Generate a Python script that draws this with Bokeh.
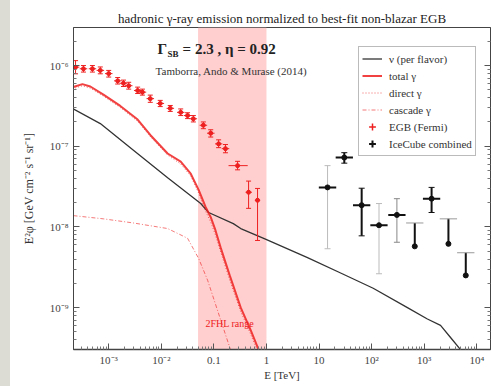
from bokeh.plotting import figure
from bokeh.models import (BoxAnnotation, Label, Legend, LegendItem, FixedTicker,
                          CustomJSTickFormatter, LogAxis, Range1d, Spacer)
from bokeh.layouts import row
from bokeh.embed import file_html
from bokeh.resources import INLINE

# ---------------- data (E in TeV, E^2 phi in GeV cm^-2 s^-1 sr^-1) ----------------
nu_E = [2.04e-4, 6.92e-4, 2.95e-3, 1.32e-2, 5.62e-2, 7.94e-2, 0.234, 0.324, 0.955, 6.03,
        25.7, 107, 479, 1148, 2042, 3162, 4898, 6026]
nu_flux = [2.95e-7, 1.91e-7, 8.91e-8, 4.07e-8, 1.95e-8, 1.51e-8, 1.10e-8, 9.55e-9, 7.08e-9,
           4.17e-9, 2.69e-9, 1.74e-9, 1.0e-9, 7.24e-10, 6.03e-10, 4.27e-10, 3.02e-10, 1.58e-10]

gam_E = [2.04e-4, 3.16e-4, 4.47e-4, 7.94e-4, 1.66e-3, 3.55e-3, 6.17e-3, 1.32e-2, 2.34e-2,
         3.63e-2, 5.13e-2, 6.92e-2, 8.71e-2, 0.107, 0.135, 0.200, 0.324, 0.501, 0.708, 0.891]
total_flux = [5.37e-7, 5.89e-7, 5.50e-7, 4.37e-7, 3.16e-7, 2.14e-7, 1.38e-7, 8.13e-8,
              6.46e-8, 4.57e-8, 2.88e-8, 1.78e-8, 1.32e-8, 9.12e-9, 5.50e-9, 2.51e-9,
              1.0e-9, 5.25e-10, 3.02e-10, 2.0e-10]
direct_flux = [5.13e-7, 5.62e-7, 5.25e-7, 4.17e-7, 3.02e-7, 2.04e-7, 1.32e-7, 7.76e-8,
               6.03e-8, 4.27e-8, 2.63e-8, 1.58e-8, 1.15e-8, 7.94e-9, 4.90e-9, 2.19e-9,
               8.91e-10, 4.68e-10, 2.69e-10, 1.78e-10]

cascade_E = [2.14e-4, 7.94e-4, 2.95e-3, 1.32e-2, 3.16e-2, 5.13e-2, 7.59e-2, 0.209, 0.251]
cascade_flux = [1.38e-8, 1.26e-8, 1.12e-8, 9.55e-9, 7.24e-9, 4.07e-9, 2.19e-9, 2.95e-10, 2.0e-10]

egb_E = [2.34e-4, 3.31e-4, 4.90e-4, 6.92e-4, 1.0e-3, 1.48e-3, 1.91e-3, 2.40e-3, 3.55e-3,
         4.37e-3, 6.17e-3, 9.55e-3, 1.48e-2, 2.34e-2, 3.16e-2, 4.07e-2, 6.31e-2, 8.71e-2,
         0.123, 0.166, 0.282, 0.457, 0.676]
egb_E_lo = [1.99e-4, 2.81e-4, 4.17e-4, 5.88e-4, 8.5e-4, 1.26e-3, 1.62e-3, 2.04e-3, 3.02e-3,
            3.71e-3, 5.24e-3, 8.12e-3, 1.26e-2, 1.99e-2, 2.69e-2, 3.46e-2, 5.36e-2, 7.40e-2,
            0.105, 0.141, 0.19, 0.40, 0.60]
egb_E_hi = [2.76e-4, 3.91e-4, 5.78e-4, 8.17e-4, 1.18e-3, 1.75e-3, 2.25e-3, 2.83e-3, 4.19e-3,
            5.16e-3, 7.28e-3, 1.13e-2, 1.75e-2, 2.76e-2, 3.73e-2, 4.80e-2, 7.45e-2, 0.103,
            0.145, 0.196, 0.44, 0.53, 0.76]
egb_flux = [9.55e-7, 9.12e-7, 9.12e-7, 8.71e-7, 7.94e-7, 6.46e-7, 6.03e-7, 5.62e-7, 4.90e-7,
            4.68e-7, 3.89e-7, 3.39e-7, 2.95e-7, 2.63e-7, 2.40e-7, 2.19e-7, 1.82e-7, 1.45e-7,
            1.07e-7, 9.33e-8, 5.75e-8, 2.69e-8, 2.14e-8]
egb_flux_lo = [7.9e-7, 8.3e-7, 8.3e-7, 7.9e-7, 7.2e-7, 5.9e-7, 5.5e-7, 5.1e-7, 4.5e-7,
               4.3e-7, 3.5e-7, 3.1e-7, 2.7e-7, 2.4e-7, 2.2e-7, 2.0e-7, 1.65e-7, 1.3e-7,
               9.6e-8, 8.3e-8, 5.1e-8, 1.7e-8, 6.8e-9]
egb_flux_hi = [1.15e-6, 1.0e-6, 1.0e-6, 9.6e-7, 8.7e-7, 7.1e-7, 6.6e-7, 6.2e-7, 5.4e-7,
               5.1e-7, 4.3e-7, 3.7e-7, 3.2e-7, 2.9e-7, 2.6e-7, 2.4e-7, 2.0e-7, 1.6e-7,
               1.2e-7, 1.05e-7, 6.5e-8, 3.7e-8, 3.0e-8]

ice_E = [14.5, 30.2, 64.6, 138, 302, 661, 1380, 2884, 6166]
ice_E_lo = [9.9, 20.7, 44.2, 94.4, 207, 452, 944, 1973, 4218]
ice_E_hi = [21.2, 44.1, 94.3, 201, 441, 965, 2015, 4211, 9002]
ice_flux = [3.09e-8, 7.24e-8, 1.86e-8, 1.05e-8, 1.41e-8, 1.12e-8, 2.24e-8, 1.26e-8, 4.79e-9]
ice_flux_lo = [5.37e-9, 6.17e-8, 7.76e-9, 2.63e-9, 6.46e-9, 5.75e-9, 1.51e-8, 6.17e-9, 2.51e-9]
ice_flux_hi = [5.75e-8, 8.32e-8, 3.02e-8, 1.95e-8, 2.24e-8, 1.12e-8, 3.09e-8, 1.26e-8, 4.79e-9]
ice_upper_limit = [False, False, False, False, False, True, False, True, True]

band_E = [0.05, 1.0]   # 2FHL range

x_tick_vals = [1e-3, 1e-2, 0.1, 1, 10, 100, 1e3, 1e4]
x_tick_labels = ["10\u207b\u00b3", "10\u207b\u00b2", "0.1", "1", "10", "10\u00b2", "10\u00b3", "10\u2074"]
y_tick_vals = [1e-9, 1e-8, 1e-7, 1e-6]
y_tick_labels = ["10\u207b\u2079", "10\u207b\u2078", "10\u207b\u2077", "10\u207b\u2076"]

# ---------------- styles ----------------
SERIF = "Liberation Serif"
RED = "#ee2020"
ice_vcolor = ["#bbbbbb", "#111111", "#111111", "#bbbbbb", "#888888", "#111111", "#111111", "#111111", "#111111"]
ice_vwidth = [1, 2, 2, 1, 1, 2, 2, 2, 2]

p = figure(width=484, height=386, x_axis_type="log", y_axis_type="log",
           x_range=Range1d(2.14e-4, 1.82e4), y_range=Range1d(3.03e-10, 2.96e-6),
           output_backend="svg", toolbar_location=None,
           min_border_left=63, min_border_right=4, min_border_top=27, min_border_bottom=37,
           background_fill_color="white", border_fill_color="white")
p.grid.visible = False
p.outline_line_color = "#444444"

p.title.text = "hadronic \u03b3-ray emission normalized to best-fit non-blazar EGB"
p.title.align = "center"
p.title.text_font = SERIF
p.title.text_font_size = "13px"
p.title.text_font_style = "normal"
p.title.text_color = "#222222"
p.title.standoff = 4

band = BoxAnnotation(left=band_E[0], right=band_E[1], fill_color="#ffcfcf", fill_alpha=1.0,
                     line_color=None, level="underlay")
p.add_layout(band)

fmt_code = """
let best = 0, bd = 1e9;
for (let i = 0; i < vals.length; i++) {
  const d = Math.abs(Math.log10(tick) - Math.log10(vals[i]));
  if (d < bd) { bd = d; best = i; }
}
return bd < 0.01 ? labels[best] : "";
"""

def minor(lo, hi):
    return [m * 10.0 ** k for k in range(lo, hi) for m in range(2, 10)]

xt = FixedTicker(ticks=x_tick_vals, minor_ticks=minor(-4, 5))
yt = FixedTicker(ticks=y_tick_vals, minor_ticks=minor(-10, -5))

for ax, t, vals, labs in ((p.xaxis[0], xt, x_tick_vals, x_tick_labels),
                          (p.yaxis[0], yt, y_tick_vals, y_tick_labels)):
    ax.ticker = t
    ax.formatter = CustomJSTickFormatter(args=dict(vals=vals, labels=labs), code=fmt_code)
    ax.major_tick_in = 6
    ax.major_tick_out = 0
    ax.minor_tick_in = 3
    ax.minor_tick_out = 0
    ax.major_tick_line_color = "#555555"
    ax.minor_tick_line_color = "#777777"
    ax.axis_line_color = "#444444"
    ax.major_label_text_font = SERIF
    ax.major_label_text_font_size = "11px"
    ax.major_label_text_color = "#444444"
    ax.axis_label_text_font = SERIF
    ax.axis_label_text_font_size = "11px"
    ax.axis_label_text_font_style = "normal"
    ax.axis_label_text_color = "#333333"

p.xaxis.axis_label = "E [TeV]"
p.xaxis.major_label_standoff = 4
p.xaxis.axis_label_standoff = 0
p.xaxis.axis_line_width = 1.5
p.yaxis.axis_label = "E\u00b2\u03c6 [GeV cm\u207b\u00b2 s\u207b\u00b9 sr\u207b\u00b9]"
p.yaxis.axis_label_text_font_size = "12px"
p.yaxis.major_label_standoff = 5
p.yaxis.axis_label_standoff = 11

ra = LogAxis(ticker=FixedTicker(ticks=y_tick_vals, minor_ticks=minor(-10, -5)),
             major_tick_in=6, major_tick_out=0, minor_tick_in=3, minor_tick_out=0,
             major_label_text_font_size="1px", major_label_text_alpha=0.0,
             axis_line_color="#444444", major_tick_line_color="#555555",
             minor_tick_line_color="#777777")
p.add_layout(ra, "right")

# ---------------- curves ----------------
r_nu = p.line(nu_E, nu_flux, line_color="#333333", line_width=1.3)
r_cas = p.line(cascade_E, cascade_flux, line_color=RED, line_width=1, line_dash="4 2 1 2", line_alpha=0.6)
r_dir = p.line(gam_E, direct_flux, line_color=RED, line_width=1, line_dash="1 2", line_alpha=0.7)
r_tot = p.line(gam_E, total_flux, line_color=RED, line_width=2, line_alpha=0.85)

# ---------------- EGB (Fermi) ----------------
p.segment(x0=egb_E, y0=egb_flux_lo, x1=egb_E, y1=egb_flux_hi, line_color=RED, line_width=1)
p.segment(x0=egb_E_lo, y0=egb_flux, x1=egb_E_hi, y1=egb_flux, line_color=RED, line_width=1)
p.scatter(egb_E, egb_flux_lo, marker="dash", size=5, line_color=RED)
p.scatter(egb_E, egb_flux_hi, marker="dash", size=5, line_color=RED)
p.scatter(egb_E, egb_flux, marker="circle", size=4, fill_color=RED, line_color=RED)

# ---------------- IceCube ----------------
meas = [i for i, u in enumerate(ice_upper_limit) if not u]
uls = [i for i, u in enumerate(ice_upper_limit) if u]
p.segment(x0=ice_E, y0=ice_flux_lo, x1=ice_E, y1=ice_flux_hi, line_color=ice_vcolor, line_width=ice_vwidth)
p.scatter([ice_E[i] for i in meas], [ice_flux_lo[i] for i in meas], marker="dash", size=6,
          line_color=[ice_vcolor[i] for i in meas])
p.scatter([ice_E[i] for i in meas], [ice_flux_hi[i] for i in meas], marker="dash", size=6,
          line_color=[ice_vcolor[i] for i in meas])
p.segment(x0=[ice_E_lo[i] for i in meas], y0=[ice_flux[i] for i in meas],
          x1=[ice_E_hi[i] for i in meas], y1=[ice_flux[i] for i in meas], line_color="#111111", line_width=2)
p.segment(x0=[ice_E_lo[i] for i in uls], y0=[ice_flux[i] for i in uls],
          x1=[ice_E_hi[i] for i in uls], y1=[ice_flux[i] for i in uls], line_color="#999999", line_width=1)
p.scatter([ice_E[i] for i in meas], [ice_flux[i] for i in meas], marker="circle", size=5,
          fill_color="#111111", line_color="#111111")
p.scatter([ice_E[i] for i in uls], [ice_flux_lo[i] for i in uls], marker="circle", size=5,
          fill_color="#111111", line_color="#111111")

# legend glyph renderers (placed off-range so that only the legend shows them)
r_egb_leg = p.scatter(x=[1e-9], y=[1e-20], marker="cross", size=12, line_color=RED, line_width=1.5)
r_ice_leg = p.scatter(x=[1e-9], y=[1e-20], marker="cross", size=12, line_color="#111111", line_width=2)

legend = Legend(items=[
    LegendItem(label="\u03bd (per flavor)", renderers=[r_nu]),
    LegendItem(label="total \u03b3", renderers=[r_tot]),
    LegendItem(label="direct \u03b3", renderers=[r_dir]),
    LegendItem(label="cascade \u03b3", renderers=[r_cas]),
    LegendItem(label="EGB (Fermi)", renderers=[r_egb_leg]),
    LegendItem(label="IceCube combined", renderers=[r_ice_leg]),
], location=(285, 193), label_text_font=SERIF, label_text_font_size="11px",
    label_text_color="#333333", glyph_width=20, glyph_height=17, label_height=17,
    spacing=0, padding=3, margin=0, label_standoff=7,
    border_line_color="#777777", background_fill_color="white", background_fill_alpha=1.0)
p.add_layout(legend)

# ---------------- annotations ----------------
TXT = "#222222"
p.add_layout(Label(x=8.5e-3, y=1.62e-6, text="\u0393", text_font=SERIF, text_font_size="15px",
                   text_font_style="bold", text_baseline="middle", text_color=TXT))
p.add_layout(Label(x=8.5e-3, y=1.62e-6, x_offset=10, y_offset=-5, text="SB", text_font=SERIF,
                   text_font_size="9px", text_font_style="bold", text_baseline="middle", text_color=TXT))
p.add_layout(Label(x=8.5e-3, y=1.62e-6, x_offset=25, text="= 2.3 , \u03b7 = 0.92", text_font=SERIF,
                   text_font_size="15px", text_font_style="bold", text_baseline="middle", text_color=TXT))
p.add_layout(Label(x=7.8e-3, y=8.5e-7, text="Tamborra, Ando & Murase (2014)", text_font=SERIF,
                   text_font_size="11px", text_baseline="middle", text_color="#333333"))
p.add_layout(Label(x=0.2, y=6.3e-10, text="2FHL range", text_font=SERIF, text_font_size="10px",
                   text_align="center", text_baseline="middle", text_color=RED))

strip = Spacer(width=10, height=386, styles={"background-color": "#dcdcd4"})
layout = row(strip, p, spacing=0)

open("out.html", "w").write(file_html(layout, INLINE))
